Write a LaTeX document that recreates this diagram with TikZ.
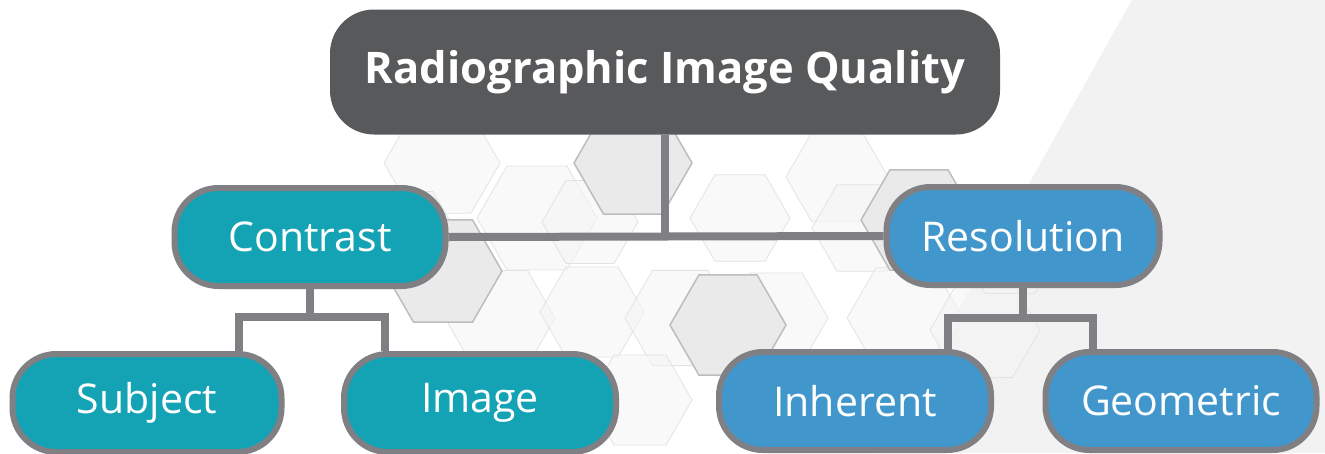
\documentclass[tikz,border=0pt]{standalone}
\usepackage{fontspec}
\setmainfont{Open Sans}
\definecolor{headgray}{HTML}{58595B}
\definecolor{contrastteal}{HTML}{14A3B5}
\definecolor{resblue}{HTML}{4197CC}
\definecolor{linegray}{HTML}{7F7F84}
\definecolor{bggray}{HTML}{F2F2F2}
\definecolor{hexfill}{HTML}{EAEAEA}
\definecolor{hexline}{HTML}{BDBDBD}
\begin{document}
\begin{tikzpicture}[x=1pt,y=-1pt,
  headbox/.style={fill=headgray, rounded corners=44pt, minimum width=670pt, minimum height=125pt, text=white, font=\bfseries\fontsize{43.5}{48}\selectfont},
  catbox/.style={draw=linegray, line width=6pt, rounded corners=44pt, minimum width=271pt, minimum height=98pt, text=white, font=\fontsize{41}{48}\selectfont},
  tealbox/.style={catbox, fill=contrastteal},
  bluebox/.style={catbox, fill=resblue},
  link/.style={draw=linegray, line width=8pt, miter limit=10},
  hexlight/.style={fill=gray!8, fill opacity=0.6, draw=gray!22, line width=0.8pt},
  hexdark/.style={fill=hexfill, draw=hexline, line width=1.5pt}]
\useasboundingbox (0,0) rectangle (1325,453);
\clip (0,0) rectangle (1325,453);
\fill[white] (0,0) rectangle (1325,453);
\fill[bggray] (1132,0) -- (1325,0) -- (1325,453) -- (878,453) -- cycle;
% hexagon pattern
\foreach \hx/\hy/\hr in {442/163/58, 537/218/60, 590/222/48, 412/228/42, 500/318/55, 592/312/52, 680/318/55, 740/218/50, 837/177/51, 862/228/50, 905/318/58, 985/330/55, 776/318/52, 640/400/52, 470/400/50, 1010/250/50}
  \filldraw[hexlight] (\hx,\hy) +(0:\hr) -- +(60:\hr) -- +(120:\hr) -- +(180:\hr) -- +(240:\hr) -- +(300:\hr) -- cycle;
\foreach \hx/\hy/\hr in {633/163/59, 443/271/59, 728/325/58, 919/220/58}
  \filldraw[hexdark] (\hx,\hy) +(0:\hr) -- +(60:\hr) -- +(120:\hr) -- +(180:\hr) -- +(240:\hr) -- +(300:\hr) -- cycle;
% nodes
\node[headbox] (quality) at (665,72) {Radiographic Image Quality};
\node[tealbox] (contrast) at (310,237) {Contrast};
\node[bluebox, minimum width=273pt] (resolution) at (1023,236) {Resolution};
\node[tealbox, minimum width=269pt] (subject) at (147,403) {Subject};
\node[tealbox, minimum width=272pt] (image) at (480,403) {Image};
\node[bluebox, minimum width=272pt] (inherent) at (855,401) {Inherent};
\node[bluebox] (geometric) at (1181,401) {Geometric};
% connectors
\coordinate (cleft) at (239,317);
\coordinate (cright) at (385,317);
\coordinate (rleft) at (948,318);
\coordinate (rright) at (1093,318);
\path[link] (contrast.east) -- (resolution.west);
\path[link] (quality.south) -- (quality.south |- contrast.east);
\path[link] (contrast.south) -- (contrast.south |- cleft);
\path[link] (cleft |- subject.north) -- (cleft) -- (cright) -- (cright |- image.north);
\path[link] (resolution.south) -- (resolution.south |- rleft);
\path[link] (rleft |- inherent.north) -- (rleft) -- (rright) -- (rright |- geometric.north);
\end{tikzpicture}
\end{document}
